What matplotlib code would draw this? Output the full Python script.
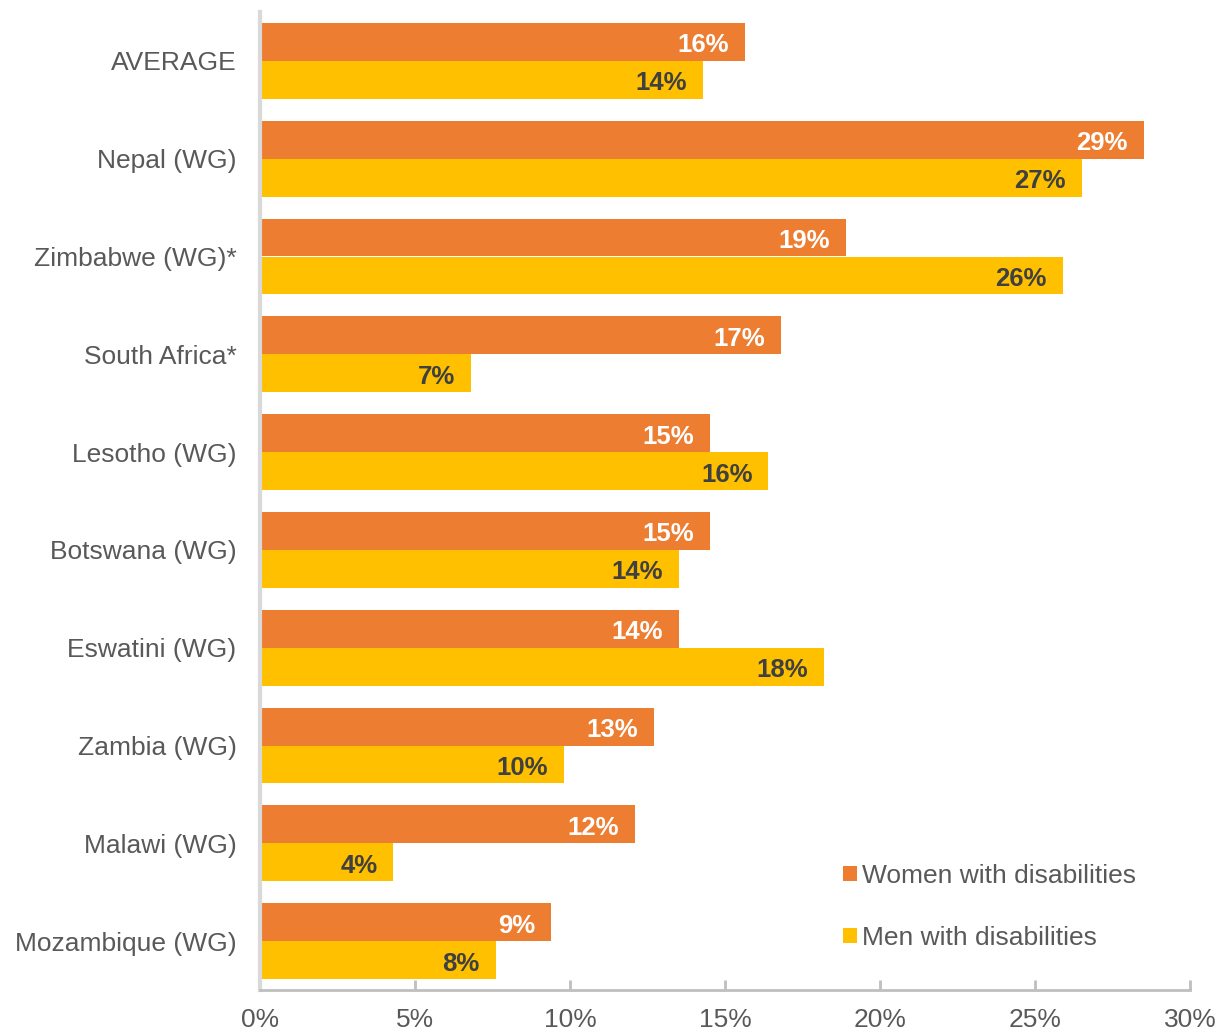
import matplotlib.pyplot as plt
from matplotlib.ticker import MultipleLocator, FuncFormatter
import numpy as np

plt.rcParams["font.family"] = ["Liberation Sans", "DejaVu Sans"]

countries = ["AVERAGE", "Nepal (WG)", "Zimbabwe (WG)*", "South Africa*",
             "Lesotho (WG)", "Botswana (WG)", "Eswatini (WG)", "Zambia (WG)",
             "Malawi (WG)", "Mozambique (WG)"]
women = [15.65, 28.5, 18.9, 16.8, 14.5, 14.5, 13.5, 12.7, 12.1, 9.4]
men = [14.3, 26.5, 25.9, 6.8, 16.4, 13.5, 18.2, 9.8, 4.3, 7.6]
women_labels = ["16%", "29%", "19%", "17%", "15%", "15%", "14%", "13%", "12%", "9%"]
men_labels = ["14%", "27%", "26%", "7%", "16%", "14%", "18%", "10%", "4%", "8%"]

ORANGE = "#ED7D31"
YELLOW = "#FFC000"
GREY_TXT = "#595959"

fig = plt.figure(figsize=(12.19, 10.32), dpi=100)
ax = fig.add_axes([260 / 1219, 1 - 990 / 1032, 930 / 1219, 978 / 1032])

y = np.arange(len(countries))
h = 0.388
ax.barh(y - h / 2, women, height=h, color=ORANGE, label="Women with disabilities")
ax.barh(y + h / 2, men, height=h, color=YELLOW, label="Men with disabilities")

# value labels sit inside the bar end, right aligned
for yi, v, lab in zip(y - h / 2, women, women_labels):
    ax.annotate(lab, (v, yi), xytext=(-11.5, -2.5), textcoords="offset points",
                ha="right", va="center", color="white", fontsize=18.5, fontweight="bold")
for yi, v, lab in zip(y + h / 2, men, men_labels):
    ax.annotate(lab, (v, yi), xytext=(-11.5, -2.5), textcoords="offset points",
                ha="right", va="center", color="#404040", fontsize=18.5, fontweight="bold")

ax.set_ylim(len(countries) - 0.5, -0.5)
ax.set_xlim(0, 30)
ax.set_yticks(y)
ax.set_yticklabels(countries)
ax.xaxis.set_major_locator(MultipleLocator(5))
ax.xaxis.set_major_formatter(FuncFormatter(lambda v, p: f"{v:.0f}%"))

ax.tick_params(axis="y", length=0, pad=17, labelsize=19, labelcolor=GREY_TXT)
ax.tick_params(axis="x", direction="in", length=7, width=2, color="#BFBFBF",
               pad=13, labelsize=19, labelcolor=GREY_TXT)

for s in ["top", "right"]:
    ax.spines[s].set_visible(False)
ax.spines["left"].set_color("#D9D9D9")
ax.spines["left"].set_linewidth(3)
ax.spines["bottom"].set_color("#BFBFBF")
ax.spines["bottom"].set_linewidth(2)

leg = ax.legend(loc="upper left", bbox_to_anchor=(843 / 1219, 1 - 864 / 1032),
                bbox_transform=fig.transFigure, frameon=False, fontsize=19,
                handlelength=0.53, handleheight=0.53, handletextpad=0.2,
                labelspacing=1.43, borderpad=0, borderaxespad=0)
for t in leg.get_texts():
    t.set_color(GREY_TXT)

fig.savefig("out.png", dpi=100)
